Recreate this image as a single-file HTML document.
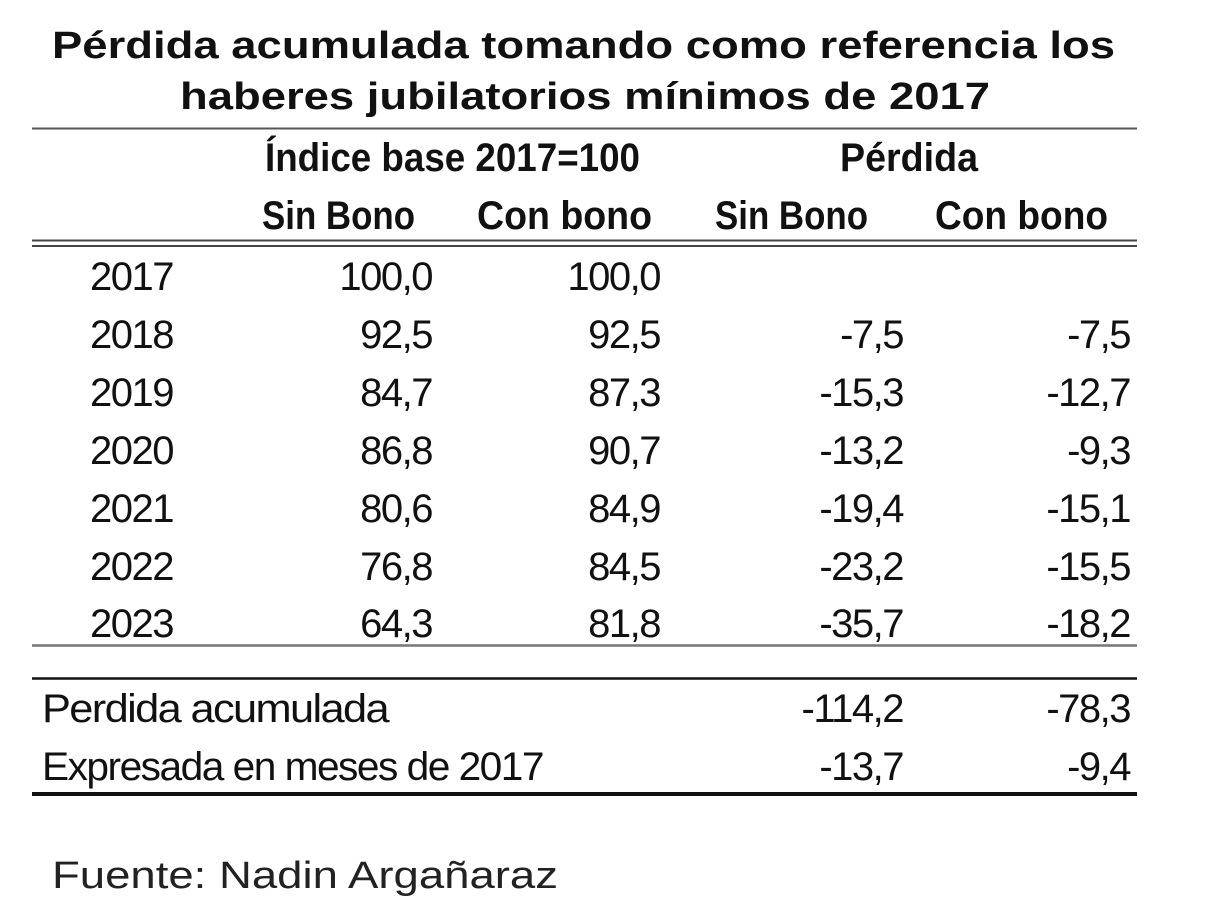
<!DOCTYPE html>
<html><head><meta charset="utf-8"><style>body{margin:0;background:#fff}svg{display:block}</style></head>
<body>
<svg width="1213" height="916" viewBox="0 0 1213 916" xmlns="http://www.w3.org/2000/svg" font-family="Liberation Sans, sans-serif" fill="#111">
<rect width="1213" height="916" fill="#fff"/>
<g font-weight="bold" font-size="38">
<text x="52" y="58" textLength="1063" lengthAdjust="spacingAndGlyphs">Pérdida acumulada tomando como referencia los</text>
<text x="180" y="109" textLength="810" lengthAdjust="spacingAndGlyphs">haberes jubilatorios mínimos de 2017</text>
</g>
<line x1="32" y1="128.5" x2="1137" y2="128.5" stroke="#555" stroke-width="2"/>
<g font-weight="bold" font-size="40">
<text x="265" y="171" textLength="375" lengthAdjust="spacingAndGlyphs">Índice base 2017=100</text>
<text x="840" y="171" textLength="138" lengthAdjust="spacingAndGlyphs">Pérdida</text>
<text x="262" y="229" textLength="153" lengthAdjust="spacingAndGlyphs">Sin Bono</text>
<text x="477" y="229" textLength="175" lengthAdjust="spacingAndGlyphs">Con bono</text>
<text x="715" y="229" textLength="153" lengthAdjust="spacingAndGlyphs">Sin Bono</text>
<text x="935" y="229" textLength="173" lengthAdjust="spacingAndGlyphs">Con bono</text>
</g>
<line x1="32" y1="240.5" x2="1137" y2="240.5" stroke="#444" stroke-width="2"/>
<line x1="32" y1="246" x2="1137" y2="246" stroke="#444" stroke-width="2"/>
<g font-size="40" letter-spacing="-1.5">
<text x="90" y="290">2017</text><text x="432" y="290" text-anchor="end">100,0</text><text x="660" y="290" text-anchor="end">100,0</text>
<text x="90" y="348">2018</text><text x="432" y="348" text-anchor="end">92,5</text><text x="660" y="348" text-anchor="end">92,5</text><text x="903" y="348" text-anchor="end">-7,5</text><text x="1130" y="348" text-anchor="end">-7,5</text>
<text x="90" y="406">2019</text><text x="432" y="406" text-anchor="end">84,7</text><text x="660" y="406" text-anchor="end">87,3</text><text x="903" y="406" text-anchor="end">-15,3</text><text x="1130" y="406" text-anchor="end">-12,7</text>
<text x="90" y="464">2020</text><text x="432" y="464" text-anchor="end">86,8</text><text x="660" y="464" text-anchor="end">90,7</text><text x="903" y="464" text-anchor="end">-13,2</text><text x="1130" y="464" text-anchor="end">-9,3</text>
<text x="90" y="522">2021</text><text x="432" y="522" text-anchor="end">80,6</text><text x="660" y="522" text-anchor="end">84,9</text><text x="903" y="522" text-anchor="end">-19,4</text><text x="1130" y="522" text-anchor="end">-15,1</text>
<text x="90" y="580">2022</text><text x="432" y="580" text-anchor="end">76,8</text><text x="660" y="580" text-anchor="end">84,5</text><text x="903" y="580" text-anchor="end">-23,2</text><text x="1130" y="580" text-anchor="end">-15,5</text>
<text x="90" y="637">2023</text><text x="432" y="637" text-anchor="end">64,3</text><text x="660" y="637" text-anchor="end">81,8</text><text x="903" y="637" text-anchor="end">-35,7</text><text x="1130" y="637" text-anchor="end">-18,2</text>
</g>
<line x1="32" y1="645.5" x2="1137" y2="645.5" stroke="#777" stroke-width="2.5"/>
<line x1="32" y1="678.5" x2="1137" y2="678.5" stroke="#111" stroke-width="2.5"/>
<g font-size="40" letter-spacing="-1.5">
<text x="42" y="722" textLength="346" lengthAdjust="spacingAndGlyphs">Perdida acumulada</text>
<text x="903" y="722" text-anchor="end">-114,2</text><text x="1130" y="722" text-anchor="end">-78,3</text>
<text x="42" y="780" textLength="501" lengthAdjust="spacingAndGlyphs">Expresada en meses de 2017</text>
<text x="903" y="780" text-anchor="end">-13,7</text><text x="1130" y="780" text-anchor="end">-9,4</text>
</g>
<line x1="32" y1="794" x2="1137" y2="794" stroke="#111" stroke-width="4"/>
<text x="52" y="888" font-size="38" fill="#222" textLength="506" lengthAdjust="spacingAndGlyphs">Fuente: Nadin Argañaraz</text>
</svg>
</body></html>
